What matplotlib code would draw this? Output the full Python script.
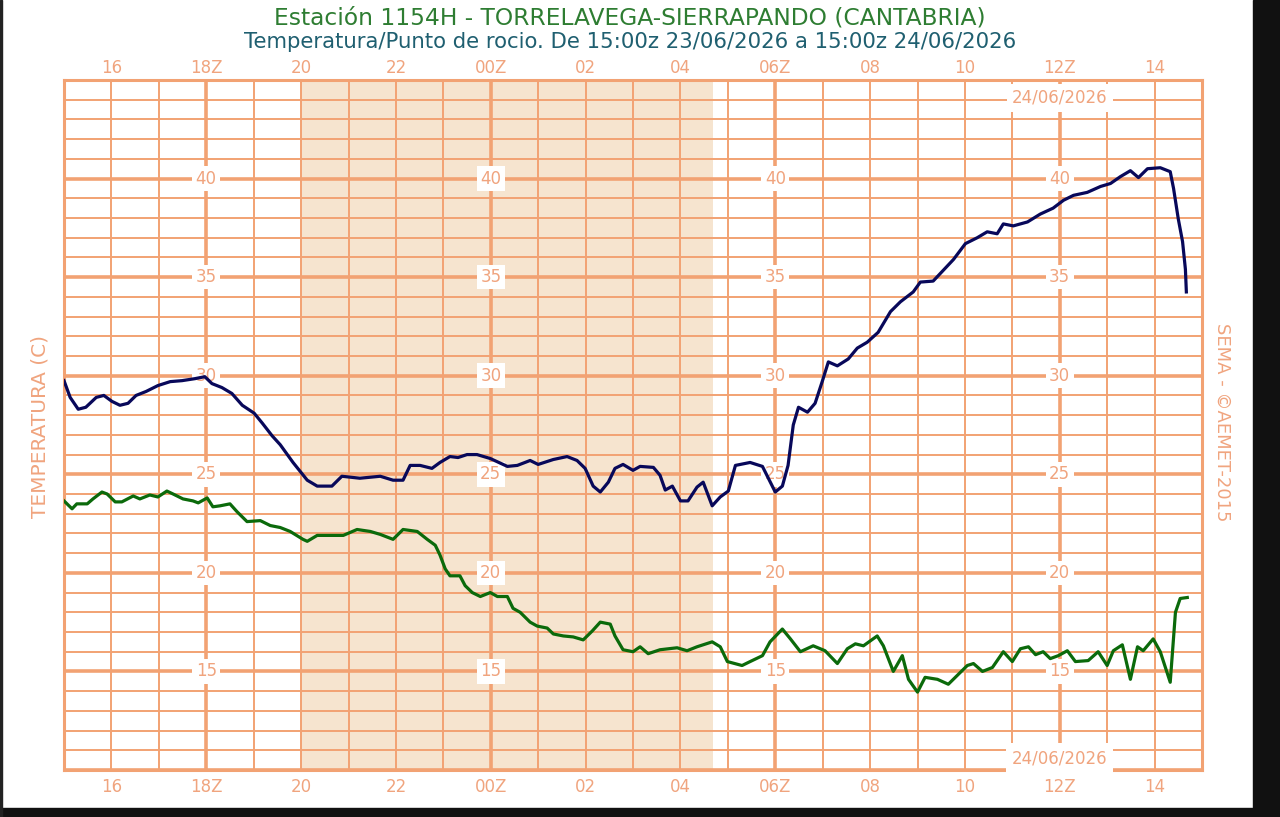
import matplotlib
matplotlib.use("Agg")
import matplotlib.pyplot as plt
from matplotlib.patches import Rectangle

# ---------------- data ----------------
# hours since 15:00z 23/06/2026
temp_hours = [0.00, 0.13, 0.30, 0.46, 0.68, 0.84, 1.01, 1.18, 1.35, 1.52, 1.73, 1.98, 2.24, 2.49,
              2.76, 2.97, 3.12, 3.33, 3.54, 3.76, 4.01, 4.18, 4.39, 4.56, 4.83, 5.13, 5.34, 5.65,
              5.86, 6.24, 6.67, 6.94, 7.15, 7.30, 7.51, 7.76, 7.93, 8.14, 8.31, 8.50, 8.71, 8.99,
              9.35, 9.56, 9.83, 10.00, 10.32, 10.61, 10.82, 10.99, 11.16, 11.31, 11.48, 11.62,
              11.79, 12.00, 12.15, 12.43, 12.57, 12.68, 12.83, 13.00, 13.16, 13.35, 13.48, 13.67,
              13.84, 14.01, 14.16, 14.47, 14.73, 15.00, 15.15, 15.27, 15.38, 15.49, 15.68, 15.84,
              15.99, 16.12, 16.31, 16.54, 16.73, 16.94, 17.17, 17.43, 17.64, 17.91, 18.06, 18.33,
              18.76, 19.01, 19.26, 19.47, 19.68, 19.81, 20.02, 20.32, 20.59, 20.86, 21.08, 21.29,
              21.58, 21.86, 22.07, 22.28, 22.49, 22.66, 22.85, 23.12, 23.33, 23.40, 23.50, 23.59,
              23.65, 23.67]
temperature = [29.75, 28.9, 28.3, 28.4, 28.9, 29.0, 28.7, 28.5, 28.6, 29.0, 29.2, 29.5, 29.7, 29.75,
               29.85, 29.95, 29.6, 29.4, 29.1, 28.5, 28.1, 27.6, 26.95, 26.5, 25.6, 24.7, 24.4, 24.4,
               24.9, 24.8, 24.9, 24.7, 24.7, 25.45, 25.45, 25.3, 25.6, 25.9, 25.85, 26.0, 26.0, 25.8,
               25.4, 25.45, 25.7, 25.5, 25.75, 25.9, 25.7, 25.3, 24.4, 24.1, 24.6, 25.3,
               25.5, 25.2, 25.4, 25.35, 24.95, 24.2, 24.4, 23.65, 23.65, 24.35, 24.6, 23.4,
               23.85, 24.15, 25.45, 25.6, 25.4, 24.1, 24.4, 25.45, 27.5, 28.4, 28.15, 28.6,
               29.7, 30.7, 30.5, 30.85, 31.4, 31.7, 32.2, 33.25, 33.75, 34.25, 34.75, 34.8,
               35.9, 36.7, 37.0, 37.3, 37.2, 37.7, 37.6, 37.8, 38.2, 38.5, 38.9, 39.15,
               39.3, 39.6, 39.75, 40.1, 40.4, 40.05, 40.5, 40.55, 40.35, 39.5, 37.95, 36.8,
               35.4, 34.25]

dew_hours = [0.00, 0.17, 0.27, 0.49, 0.61, 0.80, 0.91, 1.08, 1.22, 1.46, 1.60, 1.81, 1.98, 2.17,
             2.30, 2.51, 2.72, 2.83, 3.02, 3.14, 3.29, 3.50, 3.65, 3.86, 4.14, 4.35, 4.56, 4.77,
             5.04, 5.13, 5.34, 5.89, 6.18, 6.46, 6.67, 6.94, 7.15, 7.45, 7.66, 7.83, 7.93, 8.04,
             8.14, 8.35, 8.46, 8.61, 8.78, 8.99, 9.14, 9.35, 9.47, 9.62, 9.83, 9.98, 10.19, 10.32,
             10.53, 10.74, 10.95, 11.14, 11.31, 11.52, 11.62, 11.79, 12.00, 12.15, 12.32, 12.57,
             12.93, 13.14, 13.35, 13.67, 13.84, 13.99, 14.30, 14.47, 14.73, 14.89, 15.15, 15.32,
             15.53, 15.80, 16.05, 16.31, 16.52, 16.69, 16.86, 17.15, 17.28, 17.49, 17.68, 17.81,
             18.00, 18.16, 18.42, 18.65, 19.05, 19.18, 19.37, 19.58, 19.81, 20.00, 20.17, 20.34,
             20.49, 20.65, 20.80, 20.97, 21.16, 21.33, 21.60, 21.81, 22.00, 22.13, 22.32, 22.49,
             22.64, 22.76, 22.97, 23.12, 23.33, 23.44, 23.54, 23.69]
dew_point = [23.65, 23.25, 23.5, 23.5, 23.75, 24.1, 24.0, 23.6, 23.6, 23.9, 23.75, 23.95, 23.85, 24.15,
             24.0, 23.75, 23.65, 23.55, 23.8, 23.35, 23.4, 23.5, 23.1, 22.6, 22.65, 22.4, 22.3, 22.1,
             21.7, 21.6, 21.9, 21.9, 22.2, 22.1, 21.95, 21.7, 22.2, 22.1, 21.7, 21.4, 20.9, 20.2,
             19.85, 19.85, 19.35, 19.0, 18.8, 19.0, 18.8, 18.8, 18.2, 18.0, 17.5, 17.3, 17.2, 16.9,
             16.8, 16.75, 16.6, 17.05, 17.5, 17.4, 16.8, 16.1, 16.0, 16.25, 15.9, 16.1,
             16.2, 16.05, 16.25, 16.5, 16.25, 15.5, 15.3, 15.5, 15.8, 16.5, 17.15, 16.65,
             16.0, 16.3, 16.05, 15.4, 16.15, 16.4, 16.3, 16.8, 16.3, 15.0, 15.8, 14.6,
             13.95, 14.7, 14.6, 14.35, 15.3, 15.4, 15.0, 15.2, 16.0, 15.5, 16.15, 16.25,
             15.85, 16.0, 15.65, 15.8, 16.05, 15.5, 15.55, 16.0, 15.3, 16.05, 16.35, 14.6,
             16.25, 16.05, 16.65, 16.0, 14.45, 18.0, 18.7, 18.75]

hour_tick_pos = [1, 3, 5, 7, 9, 11, 13, 15, 17, 19, 21, 23]
hour_tick_labels = ["16", "18Z", "20", "22", "00Z", "02", "04", "06Z", "08", "10", "12Z", "14"]
value_label_hours = [3, 9, 15, 21]
value_label_temps = [15, 20, 25, 30, 35, 40]
night_start, night_end = 5.0, 13.69
date_label = "24/06/2026"

title1 = "Estación 1154H - TORRELAVEGA-SIERRAPANDO (CANTABRIA)"
title2 = "Temperatura/Punto de rocio. De 15:00z 23/06/2026 a 15:00z 24/06/2026"

# ---------------- style ----------------
GRID = "#f2a273"
LABEL = "#f0a47e"
NIGHT = "#f6e4cf"

fig = plt.figure(figsize=(12.8, 8.17), dpi=100)
fig.patch.set_facecolor("white")
ax = fig.add_axes([64 / 1280, 1 - 770 / 817, (1202 - 64) / 1280, (770 - 80) / 817])
ax.set_xlim(0, 24)
ax.set_ylim(10, 45)

ax.axvspan(night_start, night_end, color=NIGHT, zorder=0, lw=0)

for h in range(0, 25):
    ax.axvline(h, color=GRID, lw=2.6 if h % 6 == 3 else 1.4, zorder=1)
for t in range(10, 46):
    ax.axhline(t, color=GRID, lw=2.6 if t % 5 == 0 else 1.4, zorder=1)

for sp in ax.spines.values():
    sp.set_color(GRID)
    sp.set_linewidth(2.2)

ax.set_xticks(hour_tick_pos)
ax.set_xticklabels(hour_tick_labels)
ax.set_yticks([])
ax.tick_params(axis="x", length=0, labeltop=False, labelbottom=True, pad=6,
               labelsize=12, labelcolor=LABEL)

top = ax.secondary_xaxis("top")
top.set_xticks(hour_tick_pos)
top.set_xticklabels(hour_tick_labels)
top.tick_params(axis="x", length=0, pad=2, labelsize=12, labelcolor=LABEL)
top.spines["top"].set_visible(False)

for h in value_label_hours:
    for t in value_label_temps:
        ax.text(h, t, str(t), ha="center", va="center", fontsize=12, color=LABEL, zorder=3,
                bbox=dict(boxstyle="square,pad=0.2", fc="white", ec="none"))

ax.text(21, 44.1, date_label, ha="center", va="center", fontsize=12, color=LABEL, zorder=3,
        bbox=dict(boxstyle="square,pad=0.3", fc="white", ec="none"), clip_on=False)
ax.text(21, 10.6, date_label, ha="center", va="center", fontsize=12, color=LABEL, zorder=3,
        bbox=dict(boxstyle="square,pad=0.35", fc="white", ec="none"), clip_on=False)

ax.plot(temp_hours, temperature, color="#08085a", lw=2.3, zorder=4)
ax.plot(dew_hours, dew_point, color="#0b6a0b", lw=2.3, zorder=4)

fig.text(630 / 1280, 1 - 18 / 817, title1, ha="center", va="center", fontsize=16.8, color="#2e7d32")
fig.text(630 / 1280, 1 - 42 / 817, title2, ha="center", va="center", fontsize=15.3, color="#1f5f70")
fig.text(40 / 1280, 1 - 426 / 817, "TEMPERATURA (C)", rotation=90, ha="center", va="center",
         fontsize=14.5, color=LABEL)
fig.text(1222 / 1280, 1 - 422 / 817, "SEMA - ©AEMET-2015", rotation=270, ha="center", va="center",
         fontsize=13, color=LABEL)

# screenshot frame
fig.add_artist(Rectangle((1253 / 1280, 0), 1 - 1253 / 1280, 1, transform=fig.transFigure,
                         color="#111111", zorder=10))
fig.add_artist(Rectangle((0, 0), 1, 9 / 817, transform=fig.transFigure, color="#111111", zorder=10))
fig.add_artist(Rectangle((0, 0), 2 / 1280, 1, transform=fig.transFigure, color="#222222", zorder=10))

fig.savefig("out.png", dpi=100)
